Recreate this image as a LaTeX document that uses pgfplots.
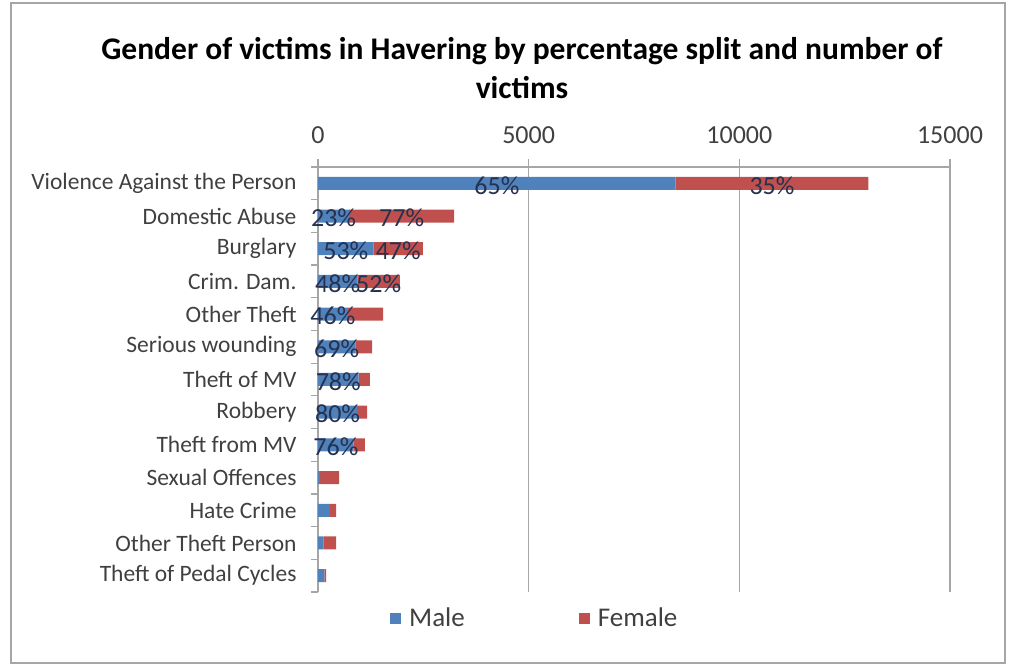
\documentclass[border=0pt]{standalone}
\usepackage{pgfplots}
\pgfplotsset{compat=1.18}
\usepackage{fontspec}
\setmainfont{Carlito}
\definecolor{mblue}{HTML}{4F81BD}
\definecolor{fred}{HTML}{C0504D}
\definecolor{txt}{HTML}{404040}
\definecolor{grd}{HTML}{A6A6A6}
\definecolor{lbl}{HTML}{26324D}
\begin{document}
\begin{tikzpicture}
\path (0pt,0pt) rectangle (1015pt,666pt);
\draw[grd, line width=1.5pt] (11pt,3pt) rectangle (1005pt,663pt);
\node[font=\bfseries\fontsize{31.5}{39}\selectfont, align=center] at (522pt,598pt) {Gender of victims in Havering by percentage split and number of\\victims};
\begin{axis}[
 at={(318pt,74pt)}, anchor=south west,
 scale only axis, width=632pt, height=425pt,
 xbar stacked, bar width=13pt,
 xmin=0, xmax=15000, ymin=-0.5, ymax=12.5, y dir=reverse,
 axis x line*=top, axis y line*=left,
 axis line style={grd, line width=1.3pt},
 xtick={0,5000,10000,15000},
 scaled x ticks=false,
 /pgf/number format/1000 sep={},
 /pgf/number format/assume math mode=true,
 xticklabel style={font=\fontsize{26}{30}\selectfont, text=txt, yshift=12pt},
 tick align=outside,
 major tick length=8pt,
 minor tick length=7pt,
 major x tick style={grd, line width=1.3pt},
 major y tick style={draw=none},
 minor y tick style={grd, line width=1.3pt},
 xmajorgrids, major x grid style={grd, line width=1.3pt},
 ytick={0,...,12},
 minor ytick={-0.5,0.5,...,12.5},
 yticklabels={Violence Against the Person, Domestic Abuse, Burglary, Crim. Dam., Other Theft, Serious wounding, Theft of MV, Robbery, Theft from MV, Sexual Offences, Hate Crime, Other Theft Person, Theft of Pedal Cycles},
 yticklabel style={font=\fontsize{23.5}{28}\selectfont, text=txt, xshift=-10pt},
 legend columns=2,
 legend style={draw=none, at={(0.343,0)}, anchor=north, yshift=-12pt, font=\fontsize{27}{30}\selectfont, text=txt,
   /tikz/every odd column/.append style={column sep=6pt},
   /tikz/every even column/.append style={column sep=112pt}},
 legend image code/.code={\fill[#1] (0pt,-5.5pt) rectangle (11pt,5.5pt);},
]
\addplot[fill=mblue, draw=none] coordinates {
 (8490,0) (740,1) (1320,2) (934,3) (710,4) (885,5) (963,6) (930,7) (848,8) (50,9) (280,10) (130,11) (150,12)};
\addlegendentry{Male}
\addplot[fill=fred, draw=none] coordinates {
 (4570,0) (2490,1) (1170,2) (1012,3) (833,4) (397,5) (271,6) (233,7) (267,8) (450,9) (150,10) (300,11) (40,12)};
\addlegendentry{Female}
\end{axis}
\begin{axis}[
 at={(318pt,74pt)}, anchor=south west,
 scale only axis, width=632pt, height=425pt,
 xmin=0, xmax=15000, ymin=-0.5, ymax=12.5, y dir=reverse,
 hide axis, clip=false,
]
\addplot[draw=none, mark=none, nodes near coords, point meta=explicit symbolic,
  nodes near coords align={center},
  nodes near coords style={anchor=center, yshift=-2pt, font=\fontsize{26}{30}\selectfont, text=lbl}]
 coordinates {
 (4245,0) [65\%] (10775,0) [35\%]
 (370,1) [23\%] (1985,1) [77\%]
 (660,2) [53\%] (1905,2) [47\%]
 (467,3) [48\%] (1440,3) [52\%]
 (355,4) [46\%]
 (442,5) [69\%]
 (481,6) [78\%]
 (465,7) [80\%]
 (424,8) [76\%]
 };
\end{axis}
\end{tikzpicture}
\end{document}
